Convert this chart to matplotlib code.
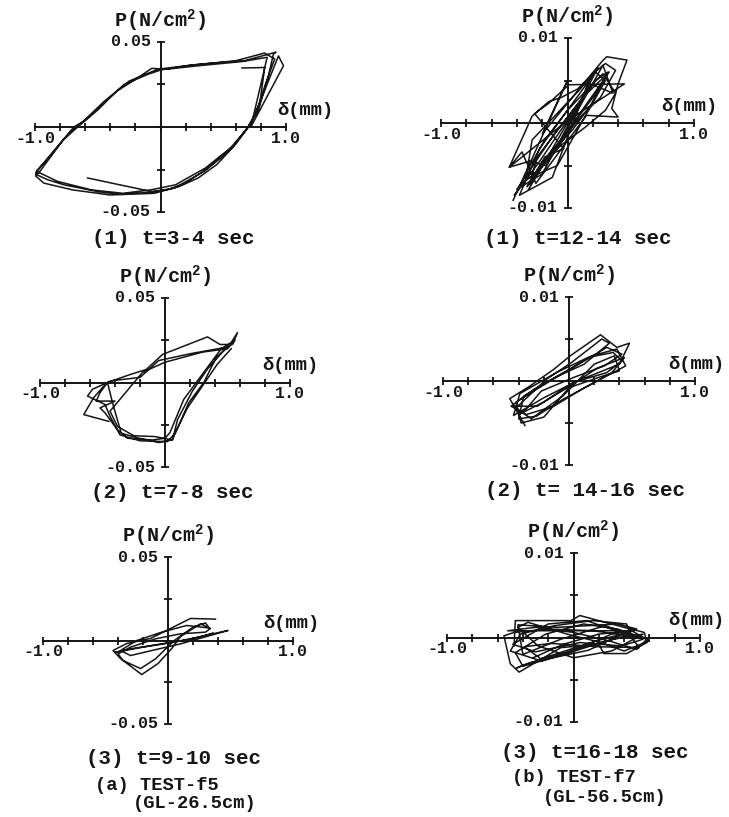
import numpy as np
import matplotlib.pyplot as plt

plt.rcParams["mathtext.fontset"] = "custom"
plt.rcParams["mathtext.rm"] = "Liberation Mono:bold"
plt.rcParams["mathtext.it"] = "Liberation Mono:bold"
plt.rcParams["mathtext.bf"] = "Liberation Mono:bold"

# hysteresis traces, P (N/cm2) against delta (mm)
# (a) TEST-f5
f5_1_x = [-0.58, -0.07, 0.11, 0.35, 0.50, 0.57, 0.70, 0.78, 0.86, 0.90, 0.92,
          0.67, 0.40, 0.25, 0.00, -0.10, -0.29, -0.47, -0.60, -0.69, -0.85, -1.00,
          -0.90, -0.77, -0.50, -0.34, -0.10,
          0.05, 0.20, 0.38, 0.55, 0.62, 0.72, 0.80, 0.94, 0.98, 0.72,
          0.85, 0.65, 0.30, 0.05, -0.07, -0.20, -0.35, -0.50, -0.66, -0.78, -0.97, -1.00,
          -0.93, -0.70, -0.40, -0.05,
          0.15, 0.30, 0.45, 0.60, 0.68, 0.76, 0.84, 0.91, 0.83,
          0.60, 0.20, -0.02, -0.25, -0.45, -0.62, -0.72, -0.88, -0.99,
          -0.82, -0.55, -0.30, -0.08, 0.12, 0.36, 0.58, 0.70, 0.79, 0.83, 0.65]
f5_1_y = [-0.0300, -0.0380, -0.0360, -0.0260, -0.0170, -0.0124, 0.0000, 0.0100, 0.0300, 0.0430, 0.0440,
          0.0390, 0.0375, 0.0365, 0.0335, 0.0310, 0.0250, 0.0130, 0.0040, 0.0000, -0.0140, -0.0276,
          -0.0310, -0.0340, -0.0380, -0.0395, -0.0385,
          -0.0370, -0.0330, -0.0240, -0.0130, -0.0070, 0.0020, 0.0160, 0.0418, 0.0360, 0.0000,
          0.0410, 0.0385, 0.0360, 0.0340, 0.0345, 0.0280, 0.0210, 0.0100, 0.0000, -0.0080, -0.0270, -0.0285,
          -0.0330, -0.0370, -0.0400, -0.0390,
          -0.0350, -0.0300, -0.0220, -0.0100, -0.0020, 0.0080, 0.0260, 0.0400, 0.0435,
          0.0390, 0.0360, 0.0340, 0.0270, 0.0150, 0.0030, -0.0030, -0.0170, -0.0260,
          -0.0320, -0.0370, -0.0390, -0.0370, -0.0340, -0.0240, -0.0110, 0.0000, 0.0130, 0.0350, 0.0347]

f5_2_x = [-0.45, -0.65, -0.57, -0.50, -0.46, -0.42, -0.35, -0.23, -0.05, 0.06, 0.19, 0.31, 0.41, 0.52, 0.58,
          0.54, 0.44, 0.34, -0.02, -0.15, -0.28, -0.46, -0.52, -0.55, -0.40, -0.52,
          -0.48, -0.38, -0.30, -0.10, 0.00, 0.04, 0.15, 0.28, 0.45, 0.56,
          0.50, 0.30, 0.00, -0.18, -0.44, -0.38, -0.25, -0.08, 0.06,
          0.10, 0.22, 0.34, 0.46, 0.55, 0.50, 0.20, -0.05, -0.20, -0.43, -0.58, -0.62, -0.48,
          -0.44, -0.36, -0.20, 0.02, 0.08, 0.18, 0.30, 0.42, 0.53]
f5_2_y = [-0.0230, -0.0190, -0.0089, -0.0030, 0.0000, -0.0120, -0.0300, -0.0326, -0.0355, -0.0337, -0.0120, 0.0000, 0.0148, 0.0225, 0.0296,
          0.0225, 0.0225, 0.0270, 0.0166, 0.0077, 0.0047, 0.0000, -0.0060, -0.0110, -0.0110, -0.0150,
          -0.0180, -0.0280, -0.0330, -0.0340, -0.0330, -0.0296, -0.0100, 0.0030, 0.0200, 0.0250,
          0.0200, 0.0180, 0.0120, 0.0060, -0.0170, -0.0260, -0.0315, -0.0320, -0.0340,
          -0.0220, -0.0050, 0.0080, 0.0180, 0.0240, 0.0210, 0.0170, 0.0130, 0.0030, 0.0010, -0.0040, -0.0080, -0.0130,
          -0.0200, -0.0310, -0.0345, -0.0350, -0.0300, -0.0150, -0.0020, 0.0110, 0.0200]

f5_3_x = [0.38, 0.18, 0.02, -0.14, -0.33, -0.44, -0.38, -0.21, -0.08, 0.03, 0.10, 0.26, 0.34, 0.30,
          0.10, -0.10, -0.30, -0.40, -0.36, -0.22, -0.10, 0.05, 0.20, 0.30, 0.33,
          0.15, -0.05, -0.25, -0.38, -0.30, 0.10, 0.48,
          0.30, 0.05, -0.20, -0.42, -0.30, -0.05, 0.20, 0.36]
f5_3_y = [0.0128, 0.0132, 0.0072, 0.0012, -0.0018, -0.0060, -0.0108, -0.0204, -0.0138, -0.0048, 0.0024, 0.0100, 0.0072, 0.0050,
          0.0040, 0.0010, -0.0040, -0.0080, -0.0120, -0.0168, -0.0110, 0.0000, 0.0080, 0.0105, 0.0075,
          0.0090, 0.0050, 0.0000, -0.0060, -0.0090, -0.0020, 0.0060,
          0.0030, -0.0010, -0.0040, -0.0070, -0.0050, -0.0020, 0.0010, 0.0045]

# (b) TEST-f7
f7_1_x = [-0.43, 0.00, -0.20, 0.27, 0.31, 0.47, 0.40, 0.35, 0.40, 0.15, -0.25, -0.36, -0.46, 0.00,
          0.45, 0.01, -0.15, -0.26, -0.03, -0.18, -0.31, 0.14, 0.18, -0.12, -0.38, -0.22, 0.22, 0.30,
          -0.08, -0.33, -0.28, 0.10, 0.24, 0.05, -0.20, -0.40, -0.10, 0.20, 0.36, 0.28, -0.05, -0.30,
          -0.24, 0.12, 0.33, 0.02, -0.17,
          -0.30, -0.46, -0.28, -0.15, -0.05, 0.08, 0.20, 0.30, 0.38, 0.26, 0.12, -0.02, -0.14, -0.26,
          -0.35, -0.42, -0.22, -0.06, 0.10, 0.22, 0.32, 0.18, 0.04, -0.10, -0.24, -0.34, -0.18, 0.00,
          0.16, 0.28, 0.38, 0.30, 0.14, -0.04, -0.20, -0.32, -0.26, -0.08, 0.10, 0.25]
f7_1_y = [-0.0091, 0.0050, -0.0013, 0.0072, 0.0078, 0.0074, 0.0046, 0.0017, 0.0007, 0.0009, -0.0071, -0.0034, -0.0052, 0.0003,
          0.0046, 0.0045, 0.0023, 0.0011, -0.0030, -0.0040, -0.0079, 0.0036, 0.0054, -0.0064, -0.0085, -0.0030, 0.0060, 0.0050,
          -0.0050, -0.0066, -0.0020, 0.0040, 0.0065, 0.0010, -0.0060, -0.0078, -0.0012, 0.0045, 0.0035, 0.0068, -0.0020, -0.0072,
          -0.0040, 0.0030, 0.0060, -0.0005, -0.0050,
          -0.0045, -0.0052, 0.0008, 0.0025, 0.0030, 0.0040, 0.0058, 0.0070, 0.0062, 0.0030, 0.0010, -0.0015, -0.0035, -0.0060,
          -0.0070, -0.0085, -0.0045, -0.0010, 0.0025, 0.0050, 0.0060, 0.0020, -0.0008, -0.0030, -0.0058, -0.0062, -0.0020, 0.0015,
          0.0040, 0.0058, 0.0035, 0.0015, -0.0005, -0.0025, -0.0045, -0.0075, -0.0062, -0.0030, 0.0010, 0.0040]

f7_2_x = [-0.35, -0.47, -0.31, -0.12, 0.01, 0.25, 0.38, 0.48, 0.40, 0.20, 0.05, -0.20, -0.44, -0.39,
          -0.10, 0.15, 0.35, 0.42, 0.30, 0.03, -0.25, -0.44, -0.30, -0.05, 0.20, 0.36, 0.40, 0.25,
          0.00, -0.20, -0.38, -0.42, -0.15, 0.10, 0.30, 0.42, 0.28, 0.05, -0.22, -0.35,
          -0.40, -0.20, 0.02, 0.22, 0.44, 0.34, 0.10, -0.12, -0.34, -0.46, -0.28, -0.02, 0.18, 0.38,
          0.45, 0.20, -0.05, -0.26, -0.40, -0.36, -0.10, 0.12, 0.32, 0.26, 0.02, -0.18, -0.42]
f7_2_y = [-0.0053, -0.0021, -0.0006, 0.0014, 0.0030, 0.0055, 0.0040, 0.0045, 0.0020, 0.0008, -0.0001, -0.0020, -0.0041, -0.0015,
          0.0010, 0.0028, 0.0034, 0.0024, 0.0010, -0.0002, -0.0030, -0.0030, -0.0045, -0.0018, 0.0020, 0.0030, 0.0012, 0.0005,
          -0.0008, -0.0043, -0.0050, -0.0025, 0.0000, 0.0022, 0.0040, 0.0032, 0.0018, 0.0005, -0.0012, -0.0035,
          -0.0040, -0.0025, -0.0005, 0.0015, 0.0028, 0.0010, -0.0010, -0.0030, -0.0040, -0.0030, -0.0010, 0.0012, 0.0030, 0.0038,
          0.0018, -0.0002, -0.0022, -0.0042, -0.0045, -0.0018, 0.0005, 0.0020, 0.0045, 0.0050, 0.0022, 0.0002, -0.0032]

f7_3_x = [-0.47, -0.46, -0.02, 0.05, 0.40, 0.56, 0.58, 0.42, 0.24, 0.20, -0.10, -0.43, -0.50, -0.55,
          -0.47, -0.20, 0.15, 0.45, 0.52, 0.21, -0.18, -0.39, -0.26, 0.00, 0.30, 0.50, 0.35, -0.13,
          -0.44, -0.40, -0.10, 0.25, 0.55, 0.38, 0.05, -0.30, -0.48, -0.20, 0.10, 0.40, 0.12, -0.35,
          -0.45, -0.15, 0.18, 0.48,
          -0.52, -0.30, 0.00, 0.28, 0.50, 0.58, 0.35, 0.08, -0.22, -0.46, -0.40, -0.12, 0.18, 0.45,
          0.42, 0.15, -0.15, -0.42, -0.50, -0.25, 0.05, 0.32, 0.55, 0.30, 0.00, -0.28, -0.44, -0.36,
          -0.05, 0.22, 0.40, 0.60, 0.46, 0.20, -0.08, -0.32]
f7_3_y = [-0.0010, 0.0020, 0.0020, 0.0026, 0.0012, 0.0006, -0.0006, -0.0019, -0.0019, -0.0008, -0.0012, -0.0041, -0.0031, 0.0002,
          0.0006, 0.0010, 0.0008, 0.0002, -0.0012, -0.0011, -0.0007, -0.0011, -0.0025, -0.0016, 0.0004, 0.0010, 0.0016, 0.0012,
          0.0015, -0.0020, -0.0002, 0.0014, -0.0002, -0.0010, -0.0006, -0.0017, -0.0008, 0.0016, 0.0020, 0.0005, -0.0015, -0.0030,
          -0.0036, -0.0020, -0.0004, 0.0008,
          0.0008, 0.0012, 0.0006, -0.0004, -0.0014, -0.0002, 0.0010, 0.0016, 0.0004, -0.0018, -0.0034, -0.0022, -0.0008, 0.0004,
          0.0016, 0.0020, 0.0014, 0.0004, -0.0016, -0.0028, -0.0012, -0.0002, 0.0004, -0.0016, -0.0024, -0.0010, 0.0012, 0.0018,
          0.0004, -0.0006, -0.0016, -0.0004, 0.0008, 0.0004, -0.0008, -0.0024]

captions = ["(1) t=3-4 sec", "(2) t=7-8 sec", "(3) t=9-10 sec",
            "(1) t=12-14 sec", "(2) t= 14-16 sec", "(3) t=16-18 sec"]

W, H = 729, 817
MONO = "Liberation Mono"
INK = "#151515"

fig = plt.figure(figsize=(W / 100, H / 100), dpi=100)


def px_axes(left, right, top, bottom):
    return fig.add_axes([left / W, 1 - bottom / H, (right - left) / W, (bottom - top) / H])


def panel(ax, xs, ys, ymax, ylab, dlab_x):
    ax.plot(xs, ys, color=INK, lw=1.1)
    ax.set_xlim(-1, 1)
    ax.set_ylim(-ymax, ymax)
    for s in ("top", "right"):
        ax.spines[s].set_visible(False)
    ax.spines["left"].set_position(("data", 0))
    ax.spines["bottom"].set_position(("data", 0))
    for s in ("left", "bottom"):
        ax.spines[s].set_linewidth(1.4)
        ax.spines[s].set_color(INK)
    ax.set_xticks(np.linspace(-1, 1, 11))
    ax.set_yticks(np.linspace(-ymax, ymax, 5))
    ax.tick_params(direction="inout", length=6, width=1.3, color=INK,
                   labelbottom=False, labelleft=False)
    ax.patch.set_alpha(0)
    kw = dict(textcoords="offset points", family=MONO, weight="bold", color=INK)
    ax.annotate("-1.0", (-1, 0), xytext=(0, -8), ha="center", va="center", fontsize=12, **kw)
    ax.annotate("1.0", (1, 0), xytext=(0, -8), ha="center", va="center", fontsize=12, **kw)
    ax.annotate(ylab, (0, ymax), xytext=(-7, 0), ha="right", va="center", fontsize=12, **kw)
    ax.annotate("-" + ylab, (0, -ymax), xytext=(-7, 0), ha="right", va="center", fontsize=12, **kw)
    ax.annotate(r"P(N/cm$^{2}$)", (0, ymax), xytext=(0, 15), ha="center", va="center", fontsize=14.5, **kw)
    ax.annotate("δ(mm)", (dlab_x, 0), xytext=(0, 12), ha="left", va="center", fontsize=13.5, **kw)


left_boxes = [(35, 286, 42, 212), (40, 290, 298, 467), (43, 293, 557, 724)]
right_boxes = [(441, 694, 38, 208), (443, 695, 297, 465), (447, 700, 553, 722)]
f5 = [(f5_1_x, f5_1_y), (f5_2_x, f5_2_y), (f5_3_x, f5_3_y)]
f7 = [(f7_1_x, f7_1_y), (f7_2_x, f7_2_y), (f7_3_x, f7_3_y)]
dl_left = [0.93, 0.78, 0.76]
dl_right = [0.74, 0.79, 0.75]

for box, (xs, ys), d in zip(left_boxes, f5, dl_left):
    panel(px_axes(*box), xs, ys, 0.05, "0.05", d)
for box, (xs, ys), d in zip(right_boxes, f7, dl_right):
    panel(px_axes(*box), xs, ys, 0.01, "0.01", d)


def ftext(x, y, s, ha="center", size=15):
    fig.text(x / W, 1 - y / H, s, ha=ha, va="center", family=MONO, weight="bold",
             fontsize=size, color=INK)


cap_pos = [(173, 238), (172, 493), (173, 758), (578, 238), (585, 490), (595, 753)]
for (cx, cy), s in zip(cap_pos, captions):
    ftext(cx, cy, s)

ftext(95, 785, "(a) TEST-f5", ha="left", size=13.5)
ftext(133, 803, "(GL-26.5cm)", ha="left", size=13.5)
ftext(512, 778, "(b) TEST-f7", ha="left", size=13.5)
ftext(543, 797, "(GL-56.5cm)", ha="left", size=13.5)

fig.savefig("out.png", dpi=100, facecolor="white")
